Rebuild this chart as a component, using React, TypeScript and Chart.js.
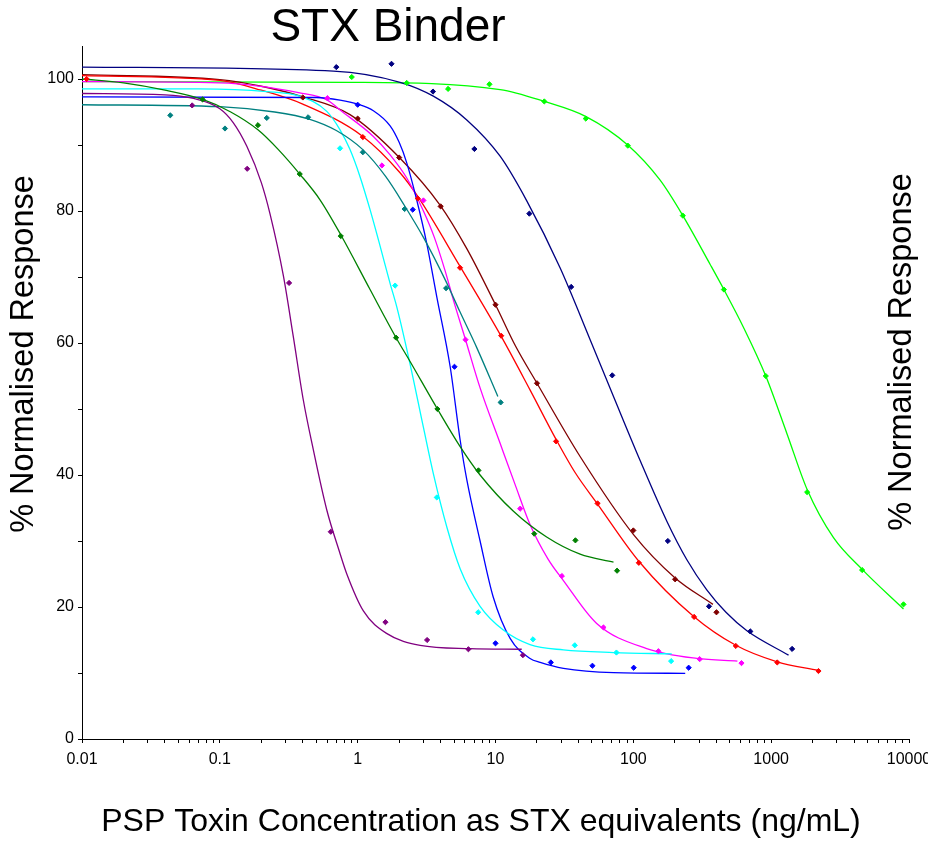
import React, { useEffect, useRef } from "react";
import { Chart, registerables } from "chart.js";

Chart.register(...registerables);

// ---- axis tick labels ----
const X_MAJOR_TICKS = [0.01, 0.1, 1, 10, 100, 1000, 10000];
const Y_TICKS = [0, 10, 20, 30, 40, 50, 60, 70, 80, 90, 100];
const Y_LABELLED = [0, 20, 40, 60, 80, 100];

const TITLE = "STX Binder";
const X_TITLE = "PSP Toxin Concentration as STX equivalents (ng/mL)";
const Y_TITLE = "% Normalised Response";

// ---- measured points (x = ng/mL, y = % response) ----
const purplePoints = [[0.063, 96.0], [0.158, 86.4], [0.318, 69.1], [0.638, 31.4], [1.59, 17.7], [3.19, 15.0], [6.36, 13.6], [15.8, 12.7]];
const greenPoints = [[0.075, 96.9], [0.189, 93.0], [0.38, 85.6], [0.754, 76.2], [1.9, 60.8], [3.79, 50.0], [7.52, 40.7], [19.1, 31.1], [38.0, 30.1], [76.2, 25.5]];
const tealPoints = [[0.0437, 94.5], [0.109, 92.5], [0.219, 94.1], [0.437, 94.2], [1.09, 88.9], [2.19, 80.3], [4.38, 68.3], [10.9, 51.0]];
const cyanPoints = [[0.745, 89.5], [1.87, 68.7], [3.75, 36.6], [7.49, 19.2], [18.7, 15.1], [37.6, 14.2], [75.4, 13.1], [188, 11.8]];
const bluePoints = [[1.0, 96.1], [2.51, 80.2], [5.04, 56.4], [10.0, 14.5], [25.2, 11.6], [50.5, 11.1], [100.6, 10.8], [252, 10.8]];
const magentaPoints = [[0.603, 97.1], [1.5, 86.9], [3.0, 81.6], [6.06, 60.5], [15.1, 34.9], [30.3, 24.7], [60.7, 16.9], [152, 13.3], [303, 12.1], [609, 11.5]];
const redPoints = [[0.0108, 100.0], [1.09, 91.2], [2.73, 81.9], [5.53, 71.4], [11.0, 61.1], [27.5, 45.1], [55.0, 35.7], [109.6, 26.7], [276, 18.5], [554, 14.1], [1107, 11.6], [2204, 10.3]];
const maroonPoints = [[0.4, 97.2], [1.0, 94.0], [2.0, 88.1], [4.0, 80.7], [10.0, 65.8], [20.0, 53.9], [100, 31.6], [201, 24.2], [401, 19.2]];
const navyPoints = [[0.7, 101.8], [1.76, 102.3], [3.52, 98.1], [7.03, 89.4], [17.6, 79.6], [35.4, 68.5], [70.3, 55.1], [178, 30.0], [354, 20.1], [706, 16.3], [1419, 13.65]];
const limePoints = [[0.906, 100.3], [2.27, 99.4], [4.53, 98.5], [9.04, 99.2], [22.6, 96.6], [45.2, 94.0], [91.2, 89.9], [228.6, 79.3], [454, 68.1], [914, 55.0], [1824, 37.4], [4571, 25.6], [9120, 20.4]];

// ---- fitted curves ----
const purpleCurve = [[0.01, 97.8], [0.04, 97.6], [0.063, 97.1], [0.1, 95.5], [0.125, 93.4], [0.157, 89.8], [0.2, 84.3], [0.231, 79.6], [0.289, 70.2], [0.341, 61.0], [0.403, 51.4], [0.477, 43.8], [0.597, 34.7], [0.737, 28.4], [0.834, 25.0], [1.1, 19.4], [1.62, 16.0], [2.84, 14.2], [6.55, 13.7], [15.5, 13.6]];
const greenCurve = [[0.01, 100.0], [0.02, 99.4], [0.04, 98.3], [0.075, 96.9], [0.12, 95.0], [0.189, 92.3], [0.266, 89.3], [0.38, 85.6], [0.533, 81.7], [0.754, 76.4], [1.23, 68.1], [1.9, 60.8], [2.4, 57.2], [3.79, 50.0], [5.54, 44.3], [7.73, 40.0], [13.5, 34.5], [23.5, 30.6], [41.1, 28.0], [71.8, 26.8]];
const tealCurve = [[0.01, 96.1], [0.1, 95.8], [0.25, 95.0], [0.45, 93.9], [0.7, 92.2], [1.09, 89.3], [1.6, 85.2], [2.19, 80.8], [3.0, 76.0], [4.38, 69.3], [5.5, 64.8], [7.31, 59.3], [10.4, 51.9]];
const cyanCurve = [[0.01, 98.5], [0.07, 98.5], [0.219, 98.1], [0.38, 97.4], [0.597, 95.1], [0.745, 92.3], [0.88, 89.3], [1.04, 85.2], [1.23, 80.2], [1.45, 74.8], [1.72, 69.0], [1.92, 65.5], [2.4, 56.8], [3.0, 47.2], [3.54, 40.2], [4.45, 32.0], [5.54, 25.8], [7.73, 20.1], [11.4, 16.5], [17.8, 14.3], [31.1, 13.5], [71.8, 13.1], [190, 12.9]];
const blueCurve = [[0.01, 97.3], [0.5, 97.2], [0.745, 96.8], [1.0, 96.2], [1.3, 95.2], [1.72, 92.9], [2.0, 90.4], [2.27, 87.3], [2.68, 81.7], [3.17, 75.1], [3.75, 67.0], [4.69, 56.4], [5.54, 45.3], [6.19, 39.3], [7.73, 30.0], [9.6, 21.6], [12.8, 15.2], [17.8, 12.2], [21.1, 11.6], [31.1, 10.7], [71.8, 10.05], [238, 9.95]];
const magentaCurve = [[0.01, 99.6], [0.1, 99.4], [0.38, 97.9], [0.603, 96.8], [0.745, 95.3], [1.3, 91.3], [1.72, 88.5], [2.27, 85.0], [3.0, 80.0], [3.6, 76.0], [4.3, 71.0], [5.0, 66.2], [6.06, 60.5], [7.73, 53.2], [10.8, 44.8], [13.9, 38.5], [17.8, 32.5], [24, 27.3], [31.1, 24.0], [54.2, 17.5], [125, 13.7], [289, 12.2], [569, 11.8]];
const redCurve = [[0.01, 100.5], [0.1, 99.8], [0.2, 98.3], [0.4, 96.2], [1.09, 91.3], [2.03, 85.8], [2.73, 82.2], [5.53, 71.6], [11.0, 61.0], [17.8, 52.9], [27.5, 45.4], [38, 40.3], [55, 35.6], [110, 26.9], [273, 18.6], [554, 14.2], [1107, 11.7], [2204, 10.4]];
const maroonCurve = [[0.01, 100.65], [0.1, 99.9], [0.2, 98.9], [0.4, 97.3], [0.88, 94.6], [2.03, 88.0], [3.96, 80.9], [6.19, 74.3], [10, 65.8], [14, 59.5], [20, 53.9], [41.1, 42.8], [100, 31.0], [201, 24.4], [378, 20.4]];
const navyCurve = [[0.01, 101.8], [0.667, 101.2], [2.03, 99.5], [3.54, 97.4], [6.19, 93.8], [10.8, 88.3], [16.9, 81.5], [29.4, 71.4], [48.6, 60.5], [71.8, 51.9], [112, 42.2], [175, 33.0], [244, 27.2], [341, 22.6], [470, 19.2], [667, 16.4], [1337, 12.7]];
const limeCurve = [[0.01, 99.6], [0.9, 99.5], [10.8, 98.4], [22.6, 96.6], [45.4, 94.3], [91, 90.0], [156, 84.7], [228.6, 79.3], [361, 71.9], [454, 68.1], [629, 62.4], [914, 55.0], [1300, 46.3], [1824, 37.8], [2833, 30.5], [4571, 25.7], [9120, 19.7]];

const SERIES = [
  { color: "#800080", points: purplePoints, curve: purpleCurve },
  { color: "#008000", points: greenPoints, curve: greenCurve },
  { color: "#008080", points: tealPoints, curve: tealCurve },
  { color: "#00FFFF", points: cyanPoints, curve: cyanCurve },
  { color: "#0000FF", points: bluePoints, curve: blueCurve },
  { color: "#FF00FF", points: magentaPoints, curve: magentaCurve },
  { color: "#FF0000", points: redPoints, curve: redCurve },
  { color: "#800000", points: maroonPoints, curve: maroonCurve },
  { color: "#000080", points: navyPoints, curve: navyCurve },
  { color: "#00FF00", points: limePoints, curve: limeCurve },
];

const FONT = "'Liberation Sans', Arial, Helvetica, sans-serif";

const toXY = (arr: number[][]) => arr.map(([x, y]) => ({ x, y }));

const isDecade = (v: number) => Math.abs(Math.log10(v) - Math.round(Math.log10(v))) < 1e-9;

const textPlugin = {
  id: "texts",
  afterDraw(chart: any) {
    const ctx = chart.ctx;
    ctx.save();
    ctx.fillStyle = "#000";
    ctx.textAlign = "center";
    ctx.textBaseline = "alphabetic";
    ctx.font = `46px ${FONT}`;
    ctx.fillText(TITLE, 388, 41);
    ctx.font = `32px ${FONT}`;
    ctx.fillText(X_TITLE, 481, 831);
    ctx.font = `32.5px ${FONT}`;
    ctx.save();
    ctx.translate(33, 354);
    ctx.rotate(-Math.PI / 2);
    ctx.fillText(Y_TITLE, 0, 0);
    ctx.restore();
    ctx.save();
    ctx.translate(911, 352);
    ctx.rotate(-Math.PI / 2);
    ctx.fillText(Y_TITLE, 0, 0);
    ctx.restore();
    ctx.restore();
  },
};

export default function App() {
  const ref = useRef<HTMLCanvasElement | null>(null);

  useEffect(() => {
    document.body.style.margin = "0";
    const canvas = ref.current!;
    const pointSets = SERIES.map((s) => ({
      data: toXY(s.points),
      showLine: false,
      pointStyle: "rectRot",
      pointRadius: 2.6,
      pointBorderWidth: 1,
      pointBackgroundColor: s.color,
      pointBorderColor: s.color,
      borderColor: s.color,
      backgroundColor: s.color,
    }));
    const curveSets = SERIES.map((s) => ({
      data: toXY(s.curve),
      showLine: true,
      pointRadius: 0,
      borderWidth: 1.3,
      borderColor: s.color,
      backgroundColor: s.color,
      cubicInterpolationMode: "monotone",
      fill: false,
    }));

    const xTicks: number[] = [];
    X_MAJOR_TICKS.forEach((d, i) => {
      if (i < X_MAJOR_TICKS.length - 1) {
        for (let k = 1; k <= 9; k++) xTicks.push(d * k);
      } else {
        xTicks.push(d);
      }
    });

    const chart = new Chart(canvas, {
      type: "scatter",
      data: { datasets: [...pointSets, ...curveSets] as any },
      plugins: [textPlugin],
      options: {
        animation: false,
        responsive: false,
        devicePixelRatio: 1,
        layout: { padding: { left: 0, right: 19, top: 46, bottom: 0 } },
        plugins: { legend: { display: false }, tooltip: { enabled: false }, title: { display: false } },
        scales: {
          x: {
            type: "logarithmic",
            min: 0.01,
            max: 10000,
            afterBuildTicks: (scale: any) => {
              scale.ticks = xTicks.map((v) => ({ value: v, major: isDecade(v) }));
            },
            afterFit: (scale: any) => {
              scale.height = 102;
              scale.paddingLeft = 0;
              scale.paddingRight = 0;
            },
            ticks: {
              autoSkip: false,
              maxRotation: 0,
              minRotation: 0,
              padding: 7,
              color: "#000",
              font: { family: FONT, size: 16 },
              callback: (v: any) => (isDecade(Number(v)) ? String(Number(v)) : ""),
            },
            grid: { drawOnChartArea: false, drawTicks: true, tickLength: 4, color: "#000", lineWidth: 1 },
            border: { display: true, color: "#000", width: 1 },
          },
          y: {
            type: "linear",
            min: 0,
            max: 105,
            afterBuildTicks: (scale: any) => {
              scale.ticks = Y_TICKS.map((v) => ({ value: v }));
            },
            afterFit: (scale: any) => {
              scale.width = 82;
              scale.paddingTop = 0;
              scale.paddingBottom = 0;
            },
            ticks: {
              padding: 4,
              color: "#000",
              font: { family: FONT, size: 16 },
              callback: (v: any) => (Y_LABELLED.includes(Number(v)) ? String(v) : ""),
            },
            grid: { drawOnChartArea: false, drawTicks: true, tickLength: 4, color: "#000", lineWidth: 1 },
            border: { display: true, color: "#000", width: 1 },
          },
        },
      } as any,
    });
    return () => chart.destroy();
  }, []);

  return (
    <canvas ref={ref} width={928} height={841} style={{ display: "block", width: 928, height: 841 }} />
  );
}
